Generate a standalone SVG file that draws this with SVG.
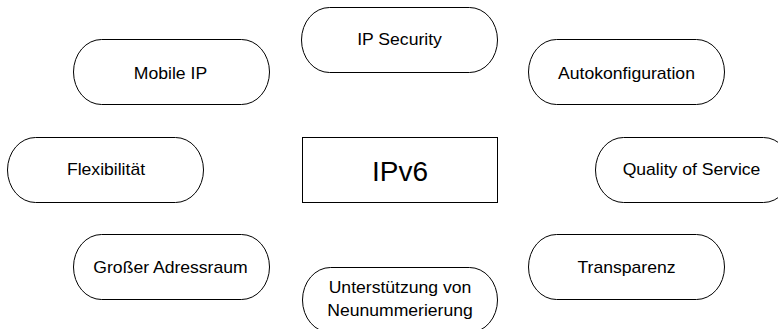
<svg xmlns="http://www.w3.org/2000/svg" width="778" height="329" viewBox="0 0 778 329">
  <style>
    .pill { fill: #fff; stroke: #000; stroke-width: 1; }
    .box { fill: #fff; stroke: #000; stroke-width: 1; }
    .lbl { font-family: "Liberation Sans", Arial, sans-serif; font-size: 16px; fill: #000; text-anchor: middle; }
    .main { font-family: "Liberation Sans", Arial, sans-serif; font-size: 28px; fill: #000; text-anchor: middle; }
  </style>
  <rect width="778" height="329" fill="#fff"/>

  <g id="connectors"></g>

  <g id="ipv6">
    <rect class="box" x="302.5" y="137.5" width="195" height="65"/>
    <text class="main" x="400" y="181">IPv6</text>
  </g>

  <g id="ip-security">
    <rect class="pill" x="301.5" y="7.5" width="196" height="65" rx="28" ry="32.5"/>
    <text class="lbl" transform="translate(399.5 45) scale(1.1 1)">IP Security</text>
  </g>

  <g id="mobile-ip">
    <rect class="pill" x="73.5" y="39.5" width="196" height="65" rx="28" ry="32.5"/>
    <text class="lbl" transform="translate(170.5 79) scale(1.1 1)">Mobile IP</text>
  </g>

  <g id="autokonfiguration">
    <rect class="pill" x="528.5" y="39.5" width="196" height="65" rx="28" ry="32.5"/>
    <text class="lbl" transform="translate(626.5 79) scale(1.1 1)">Autokonfiguration</text>
  </g>

  <g id="flexibilitaet">
    <rect class="pill" x="7.5" y="137.5" width="196" height="65" rx="28" ry="32.5"/>
    <text class="lbl" transform="translate(106 175) scale(1.1 1)">Flexibilität</text>
  </g>

  <g id="quality-of-service">
    <rect class="pill" x="595.5" y="137.5" width="196" height="65" rx="28" ry="32.5"/>
    <text class="lbl" transform="translate(691.5 175) scale(1.1 1)">Quality of Service</text>
  </g>

  <g id="grosser-adressraum">
    <rect class="pill" x="73.5" y="234.5" width="196" height="65" rx="28" ry="32.5"/>
    <text class="lbl" transform="translate(170.5 273) scale(1.1 1)">Großer Adressraum</text>
  </g>

  <g id="transparenz">
    <rect class="pill" x="528.5" y="234.5" width="196" height="65" rx="28" ry="32.5"/>
    <text class="lbl" transform="translate(626.5 273) scale(1.1 1)">Transparenz</text>
  </g>

  <g id="neunummerierung">
    <rect class="pill" x="302.5" y="267.5" width="195" height="65" rx="28" ry="32.5"/>
    <text class="lbl" transform="translate(400 293) scale(1.1 1)">Unterstützung von</text>
    <text class="lbl" transform="translate(400 316) scale(1.1 1)">Neunummerierung</text>
  </g>
</svg>
